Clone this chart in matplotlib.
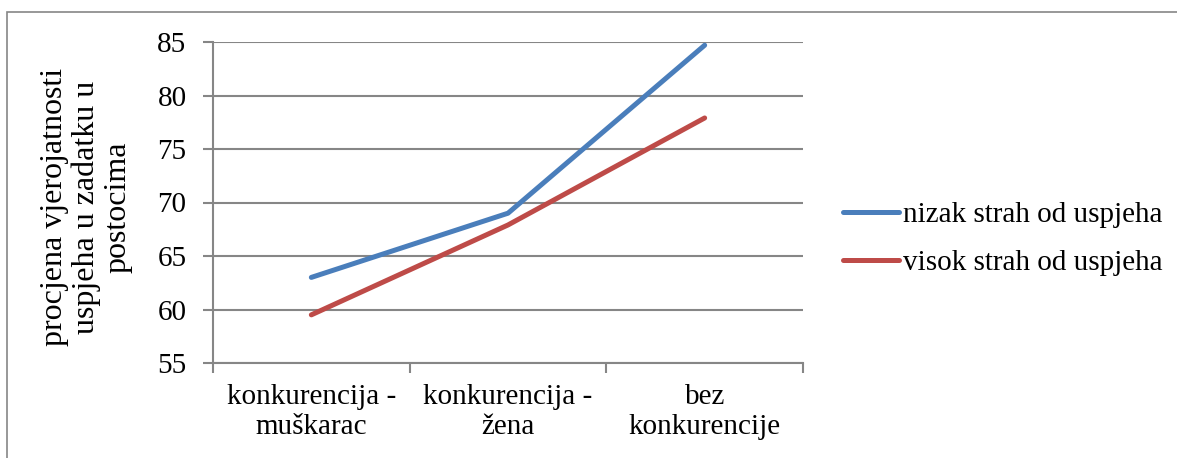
import matplotlib.pyplot as plt
from matplotlib.patches import Rectangle

categories = ['konkurencija -\nmuškarac', 'konkurencija -\nžena', 'bez\nkonkurencije']
nizak = [63.0, 69.0, 84.7]
visok = [59.5, 67.9, 77.9]
series_names = ['nizak strah od uspjeha', 'visok strah od uspjeha']
y_ticks = [55, 60, 65, 70, 75, 80, 85]

plt.rcParams['font.family'] = ['Liberation Serif', 'DejaVu Serif']

W, H = 1177, 458
fig = plt.figure(figsize=(W / 100, H / 100), dpi=100)
ax = fig.add_axes([213 / W, 1 - 363 / H, (803 - 213) / W, (363 - 42) / H])

# outer chart frame (right and bottom edges fall outside the picture)
fig.add_artist(Rectangle((7 / W, -0.5), 2, 1.5 - 12 / H, transform=fig.transFigure,
                         fill=False, edgecolor='#868686', linewidth=1.2, clip_on=False))

x = list(range(len(categories)))
ax.plot(x, nizak, color='#4A7EBB', linewidth=3.6, solid_capstyle='round', label=series_names[0])
ax.plot(x, visok, color='#BE4B48', linewidth=3.6, solid_capstyle='round', label=series_names[1])

ax.set_xlim(-0.5, 2.5)
ax.set_ylim(55, 85)
ax.set_yticks(y_ticks)
ax.set_xticks(x)
ax.set_xticklabels(categories, fontsize=21, linespacing=1.2)
ax.set_xticks([-0.5, 0.5, 1.5, 2.5], minor=True)
ax.tick_params(axis='x', which='major', length=0, pad=15)
ax.tick_params(axis='x', which='minor', length=7, width=1.5, color='#868686')
ax.tick_params(axis='y', length=7, width=1.5, color='#868686', labelsize=21, pad=12)

ax.grid(axis='y', color='#868686', linewidth=1.5)
ax.set_axisbelow(True)
for side in ['top', 'right']:
    ax.spines[side].set_visible(False)
for side in ['left', 'bottom']:
    ax.spines[side].set_color('#868686')
    ax.spines[side].set_linewidth(1.5)

ax.set_ylabel('procjena vjerojatnosti\nuspjeha u zadatku u\npostocima', fontsize=23,
              linespacing=1.1)
ax.yaxis.set_label_coords(-0.137, 0.486)

ax.legend(loc='center left', bbox_to_anchor=(1.068, 0.386), frameon=False, fontsize=21,
          handlelength=1.9, handletextpad=0.15, labelspacing=0.75,
          borderaxespad=0, borderpad=0)

fig.savefig('out.png', dpi=100)
